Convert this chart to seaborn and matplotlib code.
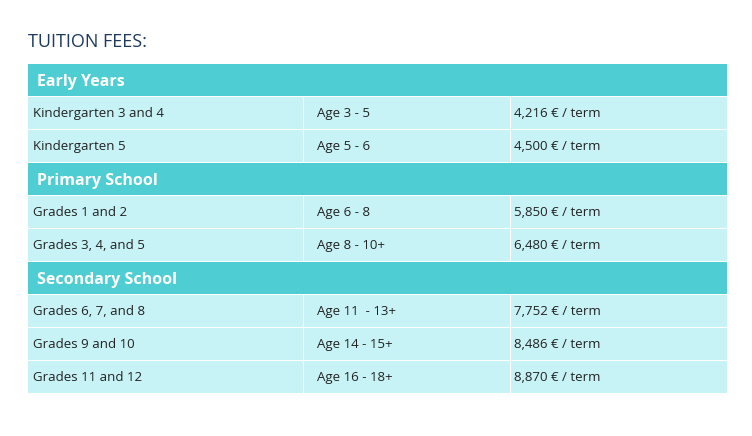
import matplotlib
matplotlib.use("Agg")
import matplotlib.pyplot as plt
import matplotlib.patches as mpatches
import seaborn as sns

# Table content
sections = ["Early Years", "Primary School", "Secondary School"]
programs = [
    ["Kindergarten 3 and 4", "Kindergarten 5"],
    ["Grades 1 and 2", "Grades 3, 4, and 5"],
    ["Grades 6, 7, and 8", "Grades 9 and 10", "Grades 11 and 12"],
]
ages = [
    ["Age 3 - 5", "Age 5 - 6"],
    ["Age 6 - 8", "Age 8 - 10+"],
    ["Age 11  - 13+", "Age 14 - 15+", "Age 16 - 18+"],
]
fees = [
    ["4,216 € / term", "4,500 € / term"],
    ["5,850 € / term", "6,480 € / term"],
    ["7,752 € / term", "8,486 € / term", "8,870 € / term"],
]

sns.set_theme(style="white")
plt.rcParams['font.family'] = ['Open Sans', 'DejaVu Sans']

header_color = "#4ECDD3"
row_color = "#C8F3F6"
title_color = "#1E3A5F"

fig = plt.figure(figsize=(7.52, 4.36), dpi=100)
ax = fig.add_axes([0, 0, 1, 1])
ax.set_xlim(0, 752)
ax.set_ylim(436, 0)
ax.axis("off")

ax.text(28, 42, "TUITION FEES:", fontsize=13, color=title_color, va="center")

left, right = 28, 727
col_x = [28, 303, 510, 727]
row_h = 33
y = 64
for sec, progs, ag, fe in zip(sections, programs, ages, fees):
    ax.add_patch(mpatches.Rectangle((left, y), right - left, row_h - 1,
                                    color=header_color, lw=0))
    ax.text(left + 9, y + row_h / 2 + 1, sec, fontsize=11.5, color="white",
            fontweight="bold", va="center")
    y += row_h
    for p, a, f in zip(progs, ag, fe):
        for c in range(3):
            ax.add_patch(mpatches.Rectangle((col_x[c] + (1 if c else 0), y),
                                            col_x[c + 1] - col_x[c] - (1 if c else 0),
                                            row_h - 1, color=row_color, lw=0))
        for c, txt in enumerate([p, a, f]):
            ax.text(col_x[c] + (5 if c == 0 else 14 if c == 1 else 4),
                    y + row_h / 2, txt, fontsize=9.5, color="#222222", va="center")
        y += row_h

fig.savefig("out.png", dpi=100, facecolor="white")
